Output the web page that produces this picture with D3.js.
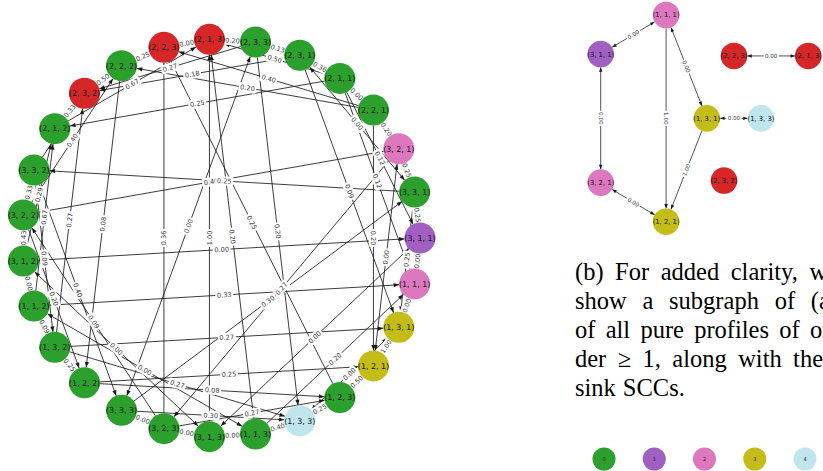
<!DOCTYPE html>
<html><head><meta charset="utf-8">
<script src="https://cdn.jsdelivr.net/npm/d3@7"></script>
<style>body{margin:0;background:#fff;} svg{display:block;}</style>
</head><body><svg id="c" width="823" height="471"></svg>
<script>
// ---------- DATA ----------
// nodes of the full response graph, in circular-layout order
const nodeNames = ["3,1,1","3,3,1","3,2,1","2,2,1","2,1,1","2,3,1","2,3,3","2,1,3","2,2,3","2,2,2","2,3,2","2,1,2","3,3,2","3,2,2","3,1,2","1,1,2","1,3,2","1,2,2","3,3,3","3,2,3","3,1,3","1,1,3","1,3,3","1,2,3","1,2,1","1,3,1","1,1,1"];
// class: order 0..4, or "s" = sink SCC
const nodeClass = ["1","0","2","0","0","0","0","s","s","0","s","0","0","0","0","0","0","0","0","0","0","0","4","0","3","3","2"];

const edgeFrom = ["2,2,2","2,2,3","2,3,3","2,3,3","2,1,1","2,1,1","2,2,1","3,2,1","3,3,1","3,1,1","1,1,1","1,3,1","1,2,3","1,3,3","1,1,3","1,1,3","3,1,3","3,2,3","1,3,2","1,1,2","1,1,2","3,1,2","3,2,2","2,1,2","2,2,2","2,3,3","2,3,1","2,1,2","2,1,1","3,2,2","2,1,1","2,2,1","2,2,1","3,3,1","2,1,1","2,1,1","2,3,1","2,2,1","3,2,1","3,3,1","2,3,3","1,2,3","1,1,3","3,1,3","3,1,1","3,2,2","3,3,1","3,2,1","3,3,3","1,1,2","1,3,2","2,2,2","3,2,3","2,3,3","3,3,2","3,3,2","3,2,2","3,1,2","1,1,2","3,2,3","3,1,2","1,1,2","1,3,2","1,2,2","3,3,3","1,2,2","1,3,2","3,2,3","3,1,1","1,1,3","1,3,3","3,3,2","1,1,1","1,1,2","1,1,3","2,2,1","2,1,2","2,3,3","3,1,1","3,1,2","3,1,3"];
const edgeTo   = ["2,2,3","2,1,3","2,1,3","2,3,1","2,3,1","2,2,1","3,2,1","3,3,1","3,1,1","1,1,1","1,3,1","1,2,1","1,2,1","1,2,3","1,3,3","3,1,3","3,2,3","3,3,3","1,2,2","1,3,2","3,1,2","3,2,2","3,3,2","2,3,2","2,3,2","2,3,2","2,3,2","2,1,3","2,1,2","2,2,2","2,1,3","2,2,3","2,2,2","2,3,1","3,1,1","1,1,1","1,3,1","1,2,1","1,2,1","1,3,1","1,3,3","2,2,3","2,1,3","2,1,3","3,1,2","3,2,1","3,3,2","3,2,3","3,3,1","1,1,1","2,3,2","1,2,2","2,2,3","3,3,3","1,3,2","3,3,3","1,2,2","2,1,2","2,1,2","3,2,2","3,1,3","1,1,3","1,3,3","1,2,3","1,3,3","1,2,1","1,3,1","1,2,3","3,1,3","1,1,1","1,3,1","2,3,2","1,2,1","1,2,2","1,2,3","2,3,1","2,2,2","2,2,3","3,2,1","3,3,2","3,3,3"];
const edgeValue = ["0.25","0.00","0.20","0.13","0.36","0.00","0.20","0.25","0.25","0.00","0.00","1.00","0.50","0.25","0.40","0.00","0.00","0.00","0.25","0.09","0.00","0.43","0.33","0.33","0.50","0.27","0.18","0.67","0.25","0.40","0.50","0.40","0.20","0.00","0.12","0.12","0.09","0.20","0.00","0.25","0.20","0.25","0.20","1.00","0.00","0.40","0.25","0.27","0.30","0.33","0.27","0.08","0.36","0.00","0.09","0.40","0.20","0.29","0.67","0.09","0.00","0.00","0.27","0.08","0.30","0.25","0.27","0.27","0.00","0.20","0.00","0.25","1.00","0.20","0.20","0.20","0.20","0.20","0.00","0.14","0.20"];

// subgraph (b): profiles of order >= 1 plus sink SCCs
const subNodes = ["1,1,1","3,1,1","2,2,3","2,1,3","1,3,1","1,3,3","3,2,1","2,3,2","1,2,1"];
const subClass = ["2","1","s","s","3","4","2","s","3"];
const subLayoutX = [0.315, 0.0, 0.642, 1.0, 0.511, 0.772, 0.0, 0.594, 0.315];
const subLayoutY = [0.0, 0.189, 0.198, 0.198, 0.5, 0.5, 0.811, 0.801, 1.0];
const subFrom = ["1,1,1","1,1,1","1,1,1","3,1,1","3,2,1","1,3,1","1,3,3","2,2,3"];
const subTo   = ["3,1,1","1,2,1","1,3,1","3,2,1","1,2,1","1,2,1","1,3,1","2,1,3"];
const subValue = ["0.00","1.00","0.00","0.00","0.00","1.00","0.00","0.00"];

const legendLabels = ["0","1","2","3","4"];
const captionLines = [
  ["(b)","For","added","clarity,","we"],
  ["show","a","subgraph","of","(a)"],
  ["of","all","pure","profiles","of","or-"],
  ["der","≥","1,","along","with","their"],
  ["sink","SCCs."]
];

// ---------- STYLE ----------
const classColor = {"0":"#2ca02c","1":"#a05fc1","2":"#de78be","3":"#c4bd18","4":"#bfe6ec","s":"#d62728"};
const svg = d3.select("#c");
const fmt = s => "(" + s.split(",").join(", ") + ")";

function drawGraph(g, names, classes, pos, from, to, vals, o) {
  const P = {}; names.forEach((n,i)=>P[n]=pos[i]);
  const eg = g.append("g"), lg = g.append("g"), ng = g.append("g");
  const seen = new Set();
  from.forEach((f,i)=>{
    const t = to[i];
    const key = [f,t].sort().join("|");
    const both = vals[i]==="0.00";
    const a = P[f], b = P[t];
    const dx=b[0]-a[0], dy=b[1]-a[1], L=Math.hypot(dx,dy), ux=dx/L, uy=dy/L;
    const s=[a[0]+ux*o.r, a[1]+uy*o.r], e=[b[0]-ux*o.r, b[1]-uy*o.r];
    eg.append("line").attr("x1",s[0]).attr("y1",s[1]).attr("x2",e[0]).attr("y2",e[1])
      .attr("stroke","#1a1a1a").attr("stroke-width",o.lw);
    const head = (tip, vx, vy) => {
      const bx=tip[0]-vx*o.ah, by=tip[1]-vy*o.ah, px=-vy*o.aw, py=vx*o.aw;
      eg.append("path").attr("d",`M${tip[0]},${tip[1]}L${bx+px},${by+py}L${bx-px},${by-py}Z`).attr("fill","#1a1a1a");
    };
    head(e, ux, uy);
    if (both) head(s, -ux, -uy);
    if (seen.has(key)) return; seen.add(key);
    let ang = Math.atan2(dy,dx)*180/Math.PI;
    if (ang>90) ang-=180; if (ang<-90) ang+=180;
    const m=[(a[0]+b[0])/2,(a[1]+b[1])/2];
    const lab = lg.append("g").attr("transform",`translate(${m[0]},${m[1]}) rotate(${ang})`);
    const rect = lab.append("rect").attr("fill","#fff");
    const tx = lab.append("text").text(vals[i]).attr("text-anchor","middle").attr("dy","0.35em")
      .attr("font-family","DejaVu Sans").attr("font-size",o.efs).attr("fill","#3a3a3a");
    const w = tx.node().getComputedTextLength(), h=o.efs*0.9, pad=o.efs*0.25;
    rect.attr("x",-w/2-pad).attr("y",-h/2-pad).attr("width",w+2*pad).attr("height",h+2*pad).attr("rx",pad);
  });
  names.forEach((n,i)=>{
    ng.append("circle").attr("cx",pos[i][0]).attr("cy",pos[i][1]).attr("r",o.r).attr("fill",classColor[classes[i]]);
    ng.append("text").attr("x",pos[i][0]).attr("y",pos[i][1]).attr("dy","0.36em").attr("text-anchor","middle")
      .attr("font-family","DejaVu Sans").attr("font-size",o.nfs).attr("fill","#111").text(fmt(n));
  });
}

// main graph: circular layout
const n = nodeNames.length;
const xL = d3.scaleLinear().domain([-1,1]).range([22,420]);
const yL = d3.scaleLinear().domain([-1,1]).range([437,39]);
const mainPos = nodeNames.map((d,i)=>{const th=2*Math.PI*i/n; return [xL(Math.cos(th)), yL(Math.sin(th))];});
drawGraph(svg.append("g"), nodeNames, nodeClass, mainPos, edgeFrom, edgeTo, edgeValue,
  {r:15.5, lw:0.85, ah:5.5, aw:2.1, efs:6.6, nfs:7.9});

// subgraph
const xS = d3.scaleLinear().domain([0,1]).range([600.7,808.3]);
const yS = d3.scaleLinear().domain([0,1]).range([15,221.7]);
const subPos = subNodes.map((d,i)=>[xS(subLayoutX[i]), yS(subLayoutY[i])]);
drawGraph(svg.append("g"), subNodes, subClass, subPos, subFrom, subTo, subValue,
  {r:13.3, lw:0.75, ah:4.5, aw:1.7, efs:5.6, nfs:6.8});

// caption (column runs past the right edge of the picture, as in the reference)
const cap = svg.append("g").attr("font-family","Liberation Serif").attr("font-size",24.5).attr("fill","#000");
const capY = d3.scaleLinear().domain([0,1]).range([280,309]);
const x0 = 575, x1 = 838;
captionLines.forEach((words,li)=>{
  const tmp = words.map(w=>cap.append("text").attr("y",capY(li)).text(w));
  const widths = tmp.map(t=>t.node().getComputedTextLength());
  const last = li===captionLines.length-1;
  const gap = last ? 7 : (x1-x0-d3.sum(widths))/(words.length-1);
  let x=x0; tmp.forEach((t,k)=>{t.attr("x",x); x+=widths[k]+gap;});
});

// legend
const xLeg = d3.scalePoint().domain(legendLabels).range([604,805]);
legendLabels.forEach(c=>{
  svg.append("circle").attr("cx",xLeg(c)).attr("cy",459).attr("r",11.5).attr("fill",classColor[c]);
  svg.append("text").attr("x",xLeg(c)).attr("y",459).attr("dy","0.35em").attr("text-anchor","middle")
    .attr("font-family","DejaVu Sans").attr("font-size",5).attr("fill","#222").text(c);
});
</script></body></html>
